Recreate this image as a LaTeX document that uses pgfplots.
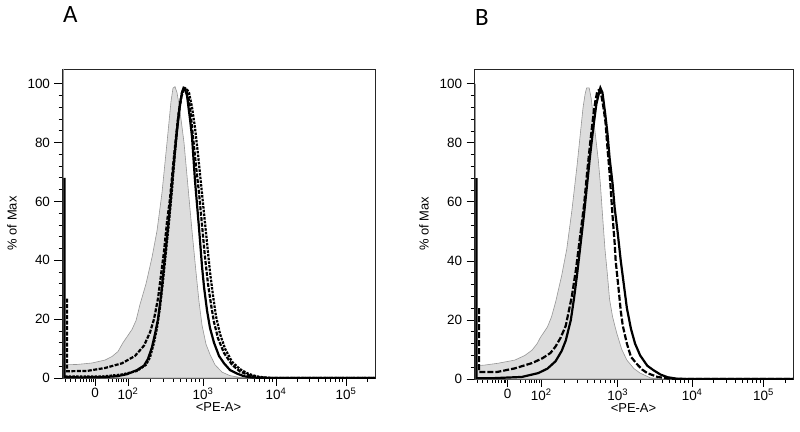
\documentclass[border=0pt]{standalone}
\usepackage{pgfplots}
\pgfplotsset{compat=1.18}
\usepackage{fontspec}
\setmainfont{Liberation Sans}
\newfontfamily\panelfont{Carlito}
\definecolor{histfill}{RGB}{221,221,221}
\definecolor{histline}{RGB}{150,150,150}

\pgfplotsset{flowaxis/.style={
  scale only axis, xmin=0, xmax=313, ymin=0, ymax=105,
  axis line style={black!85, line width=0.8bp},
  tick pos=left, tick align=outside,
  xtick={33,66,141,214,284},
  xticklabels={0,10\textsuperscript{2},10\textsuperscript{3},10\textsuperscript{4},10\textsuperscript{5}},
  minor xtick={3,8,13,18,21,24,27,29.5,31,46,50,54,56.5,59,61.5,64,
    88.6,101.8,111.2,118.4,124.4,129.4,133.7,137.6,
    163,175.8,185,192,197.8,202.7,206.9,210.7,
    235.1,247.4,256.1,262.9,268.5,273.2,277.2,280.8,305.1},
  ytick={0,20,40,60,80,100}, yticklabels={0,20,40,60,80,100},
  minor y tick num=4,
  major tick length=7.5bp, minor tick length=3.5bp,
  every tick/.style={black, line width=0.8bp},
  tick label style={font=\fontsize{13.5}{15}\selectfont},
  xticklabel style={yshift=-0.5bp, inner sep=1.5bp},
  yticklabel style={xshift=-1bp},
  xlabel={<PE-A>}, ylabel={\% of Max},
  label style={font=\fontsize{13}{15}\selectfont},
  xlabel style={yshift=0bp, inner sep=1bp},
  ylabel style={yshift=4bp},
  /pgf/number format/assume math mode=true,
  clip=true,
}}

\begin{document}
\begin{tikzpicture}[x=1bp,y=1bp]
\path[use as bounding box] (0,0) rectangle (800,431);

\node[anchor=base west, font=\panelfont\fontsize{25}{28}\selectfont, inner sep=0pt] at (63,408) {A};
\node[anchor=base west, font=\panelfont\fontsize{25}{28}\selectfont, inner sep=0pt] at (475,405) {B};

% ---------------- Panel A ----------------
\begin{axis}[flowaxis, at={(62bp,53bp)}, anchor=south west, width=313bp, height=309bp]
\addplot[fill=histfill, draw=histline, line width=0.6bp] coordinates {
(1.5,105) (1.5,4.5) (15,4.6) (30,5.1) (43,6.1) (50,7.3) (56,9) (61,12) (66,14.5) (70,16.5) (74,19.5) (78,25) (84,32) (90,41) (95,50) (100,63) (105,80) (109,94) (111,98.5) (113,99) (115,97) (117,93) (119,88) (122,80) (126,65) (130,50) (134,36) (137,26) (140,18) (144,11.5) (148,8) (153,4.5) (160,2) (168,0.8) (178,0.2) (190,0) (313,0)
} \closedcycle;
% dotted curve
\addplot[black, line width=2.2bp, dash pattern=on 2.5bp off 1.2bp] coordinates {
(3,0.5) (40,0.5) (60,1.2) (75,2.4) (84,4.5) (88,7) (92,12) (95,17) (98,24) (101,33) (104,43) (107,53) (110,64) (113,77) (116,88) (119,95) (121,97.5) (123,98.5) (125,98) (127,97) (130,92) (133,85) (136,76) (139,66) (142,56) (145,46) (148,36) (151,28) (154,21) (158,15) (163,10) (170,5.5) (178,3) (186,1.5) (194,0.6) (202,0.2) (212,0) (313,0)
};
% dashed curve
\addplot[black, line width=2.2bp, dash pattern=on 4bp off 1.5bp] coordinates {
(5,27) (5,2.3) (25,2.4) (43,3.4) (60,5) (73,7.5) (82,11) (88,15.5) (92,20) (96,27) (99,35) (102,43) (105,53) (108,61) (111,72) (114,82) (117,91) (120,97) (122,98.5) (124,98) (126,96) (128,92) (131,82) (134,72) (137,63) (140,52) (143,41) (146,32) (149,25) (152,19) (156,13.5) (162,8.5) (170,4.5) (178,2.2) (188,0.8) (198,0.2) (210,0) (313,0)
};
% solid curve
\addplot[black, line width=2.2bp] coordinates {
(2.5,68) (2.5,0.3) (20,0.2) (40,0.3) (55,0.6) (65,1.3) (75,2.7) (82,4.2) (86,6.5) (90,10.5) (93,15) (96,20) (99,28) (102,38) (105,48) (108,58) (111,70) (115,84) (118,93) (120,97) (121.5,98.5) (123,98) (125,96) (128,88) (130,82) (133,67) (137,51) (140,38) (142,31) (145,23) (148,17) (152,12) (157,7.5) (162,5) (168,2.7) (175,1.5) (182,0.6) (190,0.2) (200,0) (313,0)
};
\end{axis}

% ---------------- Panel B ----------------
\begin{axis}[flowaxis, at={(474bp,52bp)}, anchor=south west, width=319bp, height=310bp]
\addplot[fill=histfill, draw=histline, line width=0.6bp] coordinates {
(1.5,100) (1.5,4.5) (10,4.7) (23,5.3) (40,6.4) (50,8) (57,9.8) (62,12) (65,14) (72,17.6) (76,21) (80,26) (86,35) (91,44) (96,57) (101,72) (104,82) (107,92) (109,96.5) (110.5,98.6) (113,98.6) (115,95) (117,89) (119,83) (122,74) (124,66) (126,56) (128.5,44) (131,35) (133,27) (136,21) (140,15.6) (145,10) (150,6.4) (157,3.5) (163,2) (173,0.4) (185,0) (313,0)
} \closedcycle;
% dashed curve
\addplot[black, line width=2.2bp, dash pattern=on 6bp off 2bp] coordinates {
(5,24) (5,2.4) (23,2.4) (40,3.6) (57,5.4) (67,7) (75,8.8) (80,11) (85,14) (90,18) (96,28) (100,37) (104,48) (108,59) (111,70) (114,80) (117,89) (119,94) (121,97.5) (123,98) (125,96) (127,92) (129,87) (131,78) (133,70) (135,60) (136,55) (138,46) (139,40) (142,30) (144,23) (146,18) (150,12) (154,7.5) (160,5) (165,3.2) (170,2) (180,0.7) (190,0.2) (200,0) (313,0)
};
% solid curve
\addplot[black, line width=2.2bp] coordinates {
(2.5,68) (2.5,0.3) (20,0.3) (47,0.7) (63,2) (72,3.5) (80,6) (86,9.5) (90,13) (95,20) (98,27) (101,35) (104,44) (108,56) (111,66) (114,76) (117,85) (120,93) (122,96) (124,98.6) (126,97) (127,94.5) (129,89) (131,83) (133,75) (136,66) (138,58) (141,49.5) (144,40) (147,32) (150,24) (154,17) (158,12) (163,8) (170,4.5) (176,3) (183,1.5) (190,0.6) (199,0.1) (210,0) (313,0)
};
\end{axis}
\end{tikzpicture}
\end{document}
